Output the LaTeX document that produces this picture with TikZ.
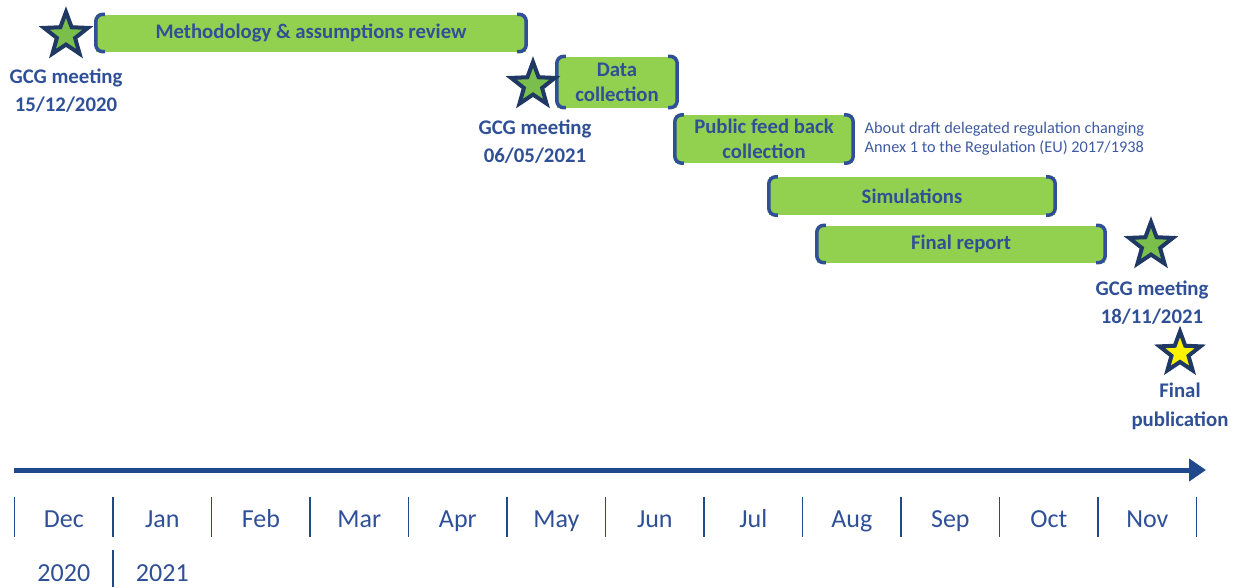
\documentclass[tikz,border=0pt]{standalone}
\usepackage{fontspec}
\setmainfont{Carlito}
\usetikzlibrary{arrows.meta,shapes.geometric}
\definecolor{textblue}{RGB}{47,80,150}
\definecolor{axisblue}{RGB}{31,73,140}
\definecolor{navy}{RGB}{31,56,100}
\definecolor{taskgreen}{RGB}{146,208,80}
\definecolor{stargreen}{RGB}{122,190,76}
\definecolor{notegray}{RGB}{62,90,160}
\tikzset{>=latex}
\tikzstyle{task}=[rectangle,fill=taskgreen,inner sep=0pt,text=textblue,font=\fontsize{20.7}{25}\selectfont\bfseries,align=center]
\tikzstyle{bracket}=[draw=textblue,line width=3.5pt,rounded corners=7pt]
\tikzstyle{milestone}=[star,star points=5,star point ratio=2.4,draw=navy,line width=4pt,fill=stargreen,minimum size=46pt,inner sep=0pt]
\tikzstyle{mlabel}=[text=textblue,font=\fontsize{20.8}{28}\selectfont\bfseries,align=center]
\tikzstyle{month}=[text=textblue,font=\fontsize{26}{28}\selectfont,anchor=base,inner sep=0pt]

\begin{document}
\begin{tikzpicture}[x=1pt,y=-1pt]
	\useasboundingbox (0,0) rectangle (1237,587);
	\def \reldist {98.5};
	\def \xstart {14.6};

	% tasks
	\node[task, minimum width=430pt, minimum height=37pt] (meth) at (311,33) {Methodology \& assumptions review};
	\node[task, minimum width=120pt, minimum height=51pt] (data) at (617,82) {Data\\collection};
	\node[task, minimum width=178pt, minimum height=48pt] (feed) at (764,139) {Public feed back\\collection};
	\node[task, minimum width=286pt, minimum height=38pt] (sim) at (912,196) {Simulations};
	\node[task, minimum width=288pt, minimum height=37pt] (rep) at (961,244) {Final report};

	\foreach \t in {meth,data,feed,sim,rep} {
		\draw[bracket] ([xshift=9pt]\t.north west) -- (\t.north west) -- (\t.south west) -- ([xshift=9pt]\t.south west);
		\draw[bracket] ([xshift=-9pt]\t.north east) -- (\t.north east) -- (\t.south east) -- ([xshift=-9pt]\t.south east);
	};

	\node[anchor=west, text=notegray, font=\fontsize{16.3}{19}\selectfont, align=left] (note) at ([xshift=8pt]feed.east) {About draft delegated regulation changing\\Annex 1 to the Regulation (EU) 2017/1938};

	% milestones
	\node[milestone] (s1) at (66,35) {};
	\node[milestone] (s2) at (533,85) {};
	\node[milestone] (s3) at (1151,245) {};
	\node[milestone, fill=yellow, minimum size=43pt] (s4) at (1180,353) {};

	\node[mlabel] (l1) at (66,91) {GCG meeting\\15/12/2020};
	\node[mlabel] (l2) at (535,142) {GCG meeting\\06/05/2021};
	\node[mlabel] (l3) at (1152,303) {GCG meeting\\18/11/2021};
	\node[mlabel, font=\fontsize{20.8}{29}\selectfont\bfseries] (l4) at (1180,406) {Final\\publication};

	% time axis
	\coordinate (ax0) at (14,470);
	\coordinate (ax1) at (1206,470);
	\draw[axisblue, line width=5pt, -{Triangle[length=17pt,width=22pt]}] (ax0) -- (ax1);

	\foreach \m [count=\i from 0] in {Dec,Jan,Feb,Mar,Apr,May,Jun,Jul,Aug,Sep,Oct,Nov} {
		\coordinate (t\i) at (\xstart + \i * \reldist, 497);
		\coordinate (b\i) at (\xstart + \i * \reldist, 537);
		\draw[axisblue, line width=1.5pt] (t\i) -- (b\i);
		\node[month] (m\i) at (\xstart + \i * \reldist + \reldist/2, 527) {\m};
	};
	\coordinate (t12) at (\xstart + 12 * \reldist, 497);
	\coordinate (b12) at (\xstart + 12 * \reldist, 537);
	\draw[axisblue, line width=1.5pt] (t12) -- (b12);

	\coordinate (y0) at (\xstart + \reldist, 550);
	\coordinate (y1) at (\xstart + \reldist, 587);
	\draw[axisblue, line width=1.5pt] (y0) -- (y1);
	\node[month] (year0) at (m0 |- 0,581) {2020};
	\node[month] (year1) at (m1 |- 0,581) {2021};

\end{tikzpicture}
\end{document}
